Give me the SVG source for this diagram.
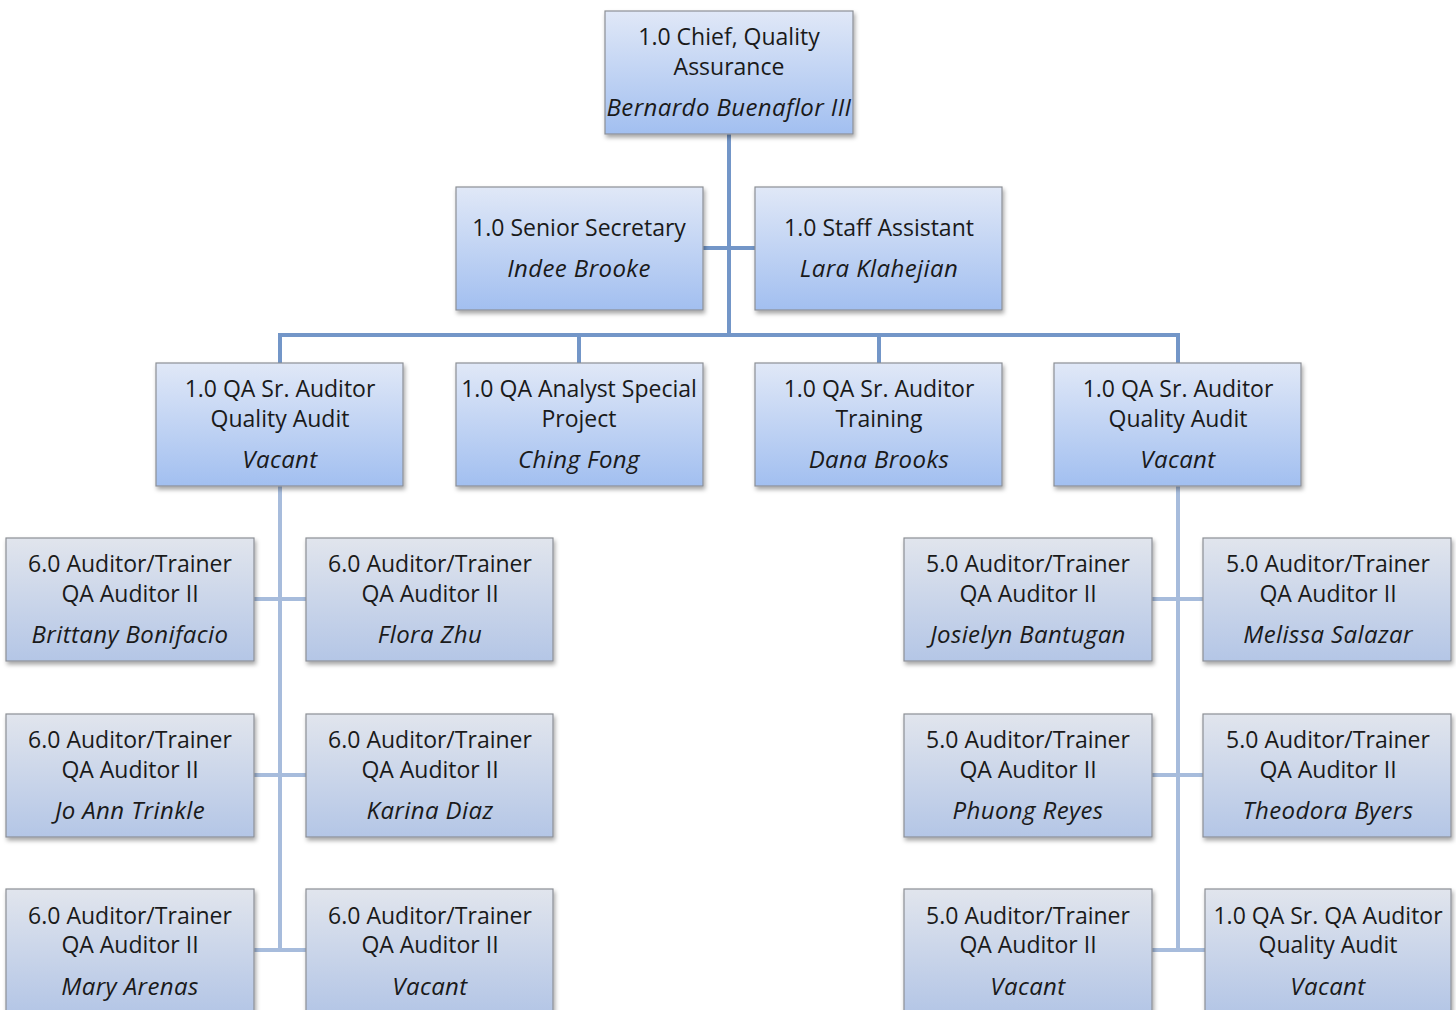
<svg xmlns="http://www.w3.org/2000/svg" width="1456" height="1010" viewBox="0 0 1456 1010">
<style>
.t{font-family:"Open Sans","Liberation Sans",sans-serif;font-size:23px;fill:#1a1a1a;text-anchor:middle;dominant-baseline:central}
.n{font-style:italic;font-size:24px;letter-spacing:0.4px}
.b1{fill:url(#gTop);stroke:#8c8f96;stroke-width:1.2;filter:url(#sh)}
.b2{fill:url(#gLow);stroke:#8c8f96;stroke-width:1.2;filter:url(#sh)}
.c1{stroke:#7396c8;stroke-width:4;fill:none}
.c2{stroke:#a7bcdc;stroke-width:4;fill:none}
</style>
<defs>
<linearGradient id="gTop" x1="0" y1="0" x2="0" y2="1"><stop offset="0" stop-color="#e0e8f7"/><stop offset="1" stop-color="#a2bff0"/></linearGradient>
<linearGradient id="gLow" x1="0" y1="0" x2="0" y2="1"><stop offset="0" stop-color="#e1e5ed"/><stop offset="1" stop-color="#b4c6e6"/></linearGradient>
<filter id="sh" x="-10%" y="-10%" width="125%" height="130%"><feDropShadow dx="1.5" dy="3" stdDeviation="2" flood-color="#000" flood-opacity="0.35"/></filter>
</defs>
<rect width="1456" height="1010" fill="#ffffff"/>
<g id="connectors">
<path class="c1" d="M729,134V335M703,248H755M280,335H1178M280,333V363M579,335V363M879,335V363M1178,333V363"/>
<path class="c2" d="M280,486V952M254,599H306M254,775H306M254,950H306M1178,486V952M1152,599H1203M1152,775H1203M1152,950H1205"/>
</g>
<g id="n-chief"><rect class="b1" x="605" y="11" width="248" height="123"/><text class="t" x="729" y="36">1.0 Chief, Quality</text><text class="t" x="729" y="66">Assurance</text><text class="t n" x="729" y="106">Bernardo Buenaflor III</text></g>
<g id="n-secretary"><rect class="b1" x="456" y="187" width="247" height="123"/><text class="t" x="579" y="227">1.0 Senior Secretary</text><text class="t n" x="579" y="267">Indee Brooke</text></g>
<g id="n-staff"><rect class="b1" x="755" y="187" width="247" height="123"/><text class="t" x="879" y="227">1.0 Staff Assistant</text><text class="t n" x="879" y="267">Lara Klahejian</text></g>
<g id="n-sr1"><rect class="b1" x="156" y="363" width="247" height="123"/><text class="t" x="280" y="388">1.0 QA Sr. Auditor</text><text class="t" x="280" y="418">Quality Audit</text><text class="t n" x="280" y="458">Vacant</text></g>
<g id="n-analyst"><rect class="b1" x="456" y="363" width="247" height="123"/><text class="t" x="579" y="388">1.0 QA Analyst Special</text><text class="t" x="579" y="418">Project</text><text class="t n" x="579" y="458">Ching Fong</text></g>
<g id="n-training"><rect class="b1" x="755" y="363" width="247" height="123"/><text class="t" x="879" y="388">1.0 QA Sr. Auditor</text><text class="t" x="879" y="418">Training</text><text class="t n" x="879" y="458">Dana Brooks</text></g>
<g id="n-sr2"><rect class="b1" x="1054" y="363" width="247" height="123"/><text class="t" x="1178" y="388">1.0 QA Sr. Auditor</text><text class="t" x="1178" y="418">Quality Audit</text><text class="t n" x="1178" y="458">Vacant</text></g>

<g id="n-l1"><rect class="b2" x="6" y="538" width="248" height="123"/><text class="t" x="130" y="563">6.0 Auditor/Trainer</text><text class="t" x="130" y="593">QA Auditor II</text><text class="t n" x="130" y="633">Brittany Bonifacio</text></g>
<g id="n-l2"><rect class="b2" x="306" y="538" width="247" height="123"/><text class="t" x="430" y="563">6.0 Auditor/Trainer</text><text class="t" x="430" y="593">QA Auditor II</text><text class="t n" x="430" y="633">Flora Zhu</text></g>
<g id="n-l3"><rect class="b2" x="6" y="714" width="248" height="123"/><text class="t" x="130" y="739">6.0 Auditor/Trainer</text><text class="t" x="130" y="769">QA Auditor II</text><text class="t n" x="130" y="809">Jo Ann Trinkle</text></g>
<g id="n-l4"><rect class="b2" x="306" y="714" width="247" height="123"/><text class="t" x="430" y="739">6.0 Auditor/Trainer</text><text class="t" x="430" y="769">QA Auditor II</text><text class="t n" x="430" y="809">Karina Diaz</text></g>
<g id="n-l5"><rect class="b2" x="6" y="889" width="248" height="123"/><text class="t" x="130" y="915">6.0 Auditor/Trainer</text><text class="t" x="130" y="944">QA Auditor II</text><text class="t n" x="130" y="985">Mary Arenas</text></g>
<g id="n-l6"><rect class="b2" x="306" y="889" width="247" height="123"/><text class="t" x="430" y="915">6.0 Auditor/Trainer</text><text class="t" x="430" y="944">QA Auditor II</text><text class="t n" x="430" y="985">Vacant</text></g>

<g id="n-r1"><rect class="b2" x="904" y="538" width="248" height="123"/><text class="t" x="1028" y="563">5.0 Auditor/Trainer</text><text class="t" x="1028" y="593">QA Auditor II</text><text class="t n" x="1028" y="633">Josielyn Bantugan</text></g>
<g id="n-r2"><rect class="b2" x="1203" y="538" width="248" height="123"/><text class="t" x="1328" y="563">5.0 Auditor/Trainer</text><text class="t" x="1328" y="593">QA Auditor II</text><text class="t n" x="1328" y="633">Melissa Salazar</text></g>
<g id="n-r3"><rect class="b2" x="904" y="714" width="248" height="123"/><text class="t" x="1028" y="739">5.0 Auditor/Trainer</text><text class="t" x="1028" y="769">QA Auditor II</text><text class="t n" x="1028" y="809">Phuong Reyes</text></g>
<g id="n-r4"><rect class="b2" x="1203" y="714" width="248" height="123"/><text class="t" x="1328" y="739">5.0 Auditor/Trainer</text><text class="t" x="1328" y="769">QA Auditor II</text><text class="t n" x="1328" y="809">Theodora Byers</text></g>
<g id="n-r5"><rect class="b2" x="904" y="889" width="248" height="123"/><text class="t" x="1028" y="915">5.0 Auditor/Trainer</text><text class="t" x="1028" y="944">QA Auditor II</text><text class="t n" x="1028" y="985">Vacant</text></g>
<g id="n-r6"><rect class="b2" x="1205" y="889" width="246" height="123"/><text class="t" x="1328" y="915">1.0 QA Sr. QA Auditor</text><text class="t" x="1328" y="944">Quality Audit</text><text class="t n" x="1328" y="985">Vacant</text></g>
</svg>
